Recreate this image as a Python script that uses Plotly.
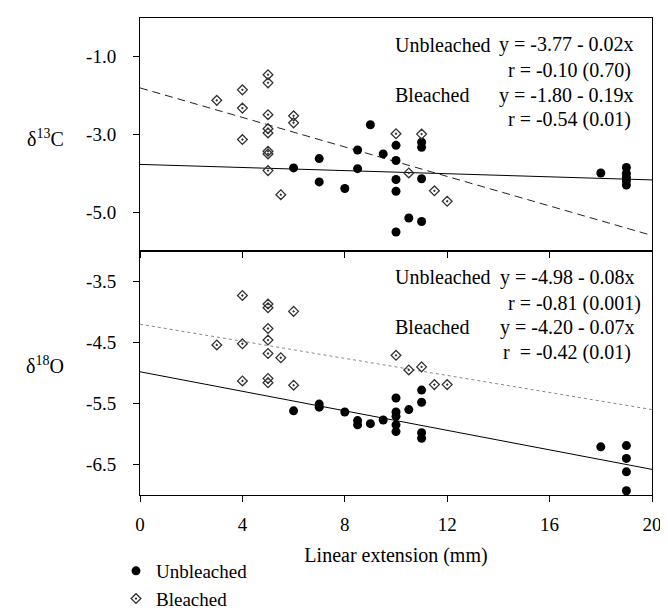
import plotly.graph_objects as go

# ---------------- data ----------------
# delta13C panel (top)
c13_unb_x = [6, 7, 7, 8, 8.5, 8.5, 9, 9.5, 10, 10, 10, 10, 10, 10.5, 11, 11, 11, 11, 18, 19, 19, 19, 19, 19]
c13_unb_y = [-3.86, -3.62, -4.22, -4.39, -3.40, -3.88, -2.75, -3.50, -3.28, -3.67, -4.16, -4.46, -5.51,
             -5.15, -3.20, -3.33, -4.14, -5.24, -3.99, -3.85, -4.00, -4.10, -4.20, -4.30]
c13_ble_x = [3, 4, 4, 4, 5, 5, 5, 5, 5, 5, 5, 5, 5.5, 6, 6, 10, 10.5, 11, 11.5, 12]
c13_ble_y = [-2.12, -1.85, -2.32, -3.13, -1.46, -1.67, -2.49, -2.85, -2.96, -3.43, -3.50, -3.93,
             -4.55, -2.52, -2.70, -2.98, -3.99, -2.99, -4.45, -4.72]

# delta18O panel (bottom)
o18_unb_x = [6, 7, 7, 8, 8.5, 8.5, 9, 9.5, 10, 10, 10, 10, 10, 10.5, 11, 11, 11, 11, 18, 19, 19, 19, 19]
o18_unb_y = [-5.62, -5.51, -5.56, -5.64, -5.78, -5.85, -5.83, -5.77, -5.41, -5.64, -5.71, -5.85, -5.96,
             -5.60, -5.28, -5.48, -5.98, -6.07, -6.21, -6.19, -6.40, -6.62, -6.93]
o18_ble_x = [3, 4, 4, 4, 5, 5, 5, 5, 5, 5, 5, 5.5, 6, 6, 10, 10.5, 11, 11.5, 12]
o18_ble_y = [-4.54, -3.73, -4.52, -5.13, -3.87, -3.93, -4.27, -4.46, -4.68, -5.09, -5.16, -4.75,
             -3.99, -5.20, -4.71, -4.95, -4.90, -5.19, -5.19]

# regression fits (intercept, slope) as printed on the chart
c13_unb_fit = (-3.77, -0.02)
c13_ble_fit = (-1.80, -0.19)
o18_unb_fit = (-4.98, -0.08)
o18_ble_fit = (-4.20, -0.07)
fit_x = [0, 20]

x_ticks = [0, 4, 8, 12, 16, 20]
x_ticktext = ["0", "4", "8", "12", "16", "20"]
c13_ticks = [-1.0, -3.0, -5.0]
c13_ticktext = ["-1.0", "-3.0", "-5.0"]
o18_ticks = [-3.5, -4.5, -5.5, -6.5]
o18_ticktext = ["-3.5", "-4.5", "-5.5", "-6.5"]

c13_text = ["y = -3.77 - 0.02x", "r = -0.10 (0.70)", "y = -1.80 - 0.19x", "r = -0.54 (0.01)"]
o18_text = ["y = -4.98 - 0.08x", "r = -0.81 (0.001)", "y = -4.20 - 0.07x", "r\u00a0 = -0.42 (0.01)"]

# ---------------- figure ----------------
FONT = "Liberation Serif"
W, H = 668, 616
ML, MR, MT, MB = 132, 24, 10, 129
PW = W - ML - MR
PH = H - MT - MB
split = 244 / PH


def px_x(px):
    return (px - ML) / PW


def px_y(py):
    return (H - MB - py) / PH


def line_y(fit):
    a, b = fit
    return [a + b * x for x in fit_x]


fig = go.Figure()

unb_marker = dict(symbol="circle", size=9, color="black")
ble_marker = dict(symbol="diamond-open-dot", size=7.5, color="#333333", line=dict(color="#333333", width=1.3))

# top panel
fig.add_trace(go.Scatter(x=fit_x, y=line_y(c13_unb_fit), mode="lines", xaxis="x2", yaxis="y2",
                         line=dict(color="black", width=1), showlegend=False, hoverinfo="skip"))
fig.add_trace(go.Scatter(x=fit_x, y=line_y(c13_ble_fit), mode="lines", xaxis="x2", yaxis="y2",
                         line=dict(color="#222222", width=1, dash="8px,5px"), showlegend=False, hoverinfo="skip"))
fig.add_trace(go.Scatter(x=c13_unb_x, y=c13_unb_y, mode="markers", xaxis="x2", yaxis="y2",
                         marker=unb_marker, name="Unbleached", legendgroup="u"))
fig.add_trace(go.Scatter(x=c13_ble_x, y=c13_ble_y, mode="markers", xaxis="x2", yaxis="y2",
                         marker=ble_marker, name="Bleached", legendgroup="b"))

# bottom panel
fig.add_trace(go.Scatter(x=fit_x, y=line_y(o18_unb_fit), mode="lines", xaxis="x", yaxis="y",
                         line=dict(color="black", width=1), showlegend=False, hoverinfo="skip"))
fig.add_trace(go.Scatter(x=fit_x, y=line_y(o18_ble_fit), mode="lines", xaxis="x", yaxis="y",
                         line=dict(color="#888888", width=1, dash="dot"), showlegend=False, hoverinfo="skip"))
fig.add_trace(go.Scatter(x=o18_unb_x, y=o18_unb_y, mode="markers", xaxis="x", yaxis="y",
                         marker=unb_marker, name="Unbleached", legendgroup="u", showlegend=False))
fig.add_trace(go.Scatter(x=o18_ble_x, y=o18_ble_y, mode="markers", xaxis="x", yaxis="y",
                         marker=ble_marker, name="Bleached", legendgroup="b", showlegend=False))

axis_common = dict(showline=True, linecolor="black", linewidth=1, mirror=True, showgrid=False,
                   zeroline=False, ticks="outside", ticklen=6, tickcolor="black", tickwidth=1,
                   automargin=False,
                   tickfont=dict(family=FONT, size=19, color="black"))

fig.update_layout(
    width=W, height=H,
    margin=dict(l=ML, r=MR, t=MT, b=MB, autoexpand=False),
    paper_bgcolor="white", plot_bgcolor="white",
    font=dict(family=FONT, size=20, color="black"),
    xaxis=dict(domain=[0, 1], anchor="y", range=[0, 20], tickvals=x_ticks, ticktext=x_ticktext,
               title=dict(text="Linear extension (mm)", standoff=14, font=dict(family=FONT, size=20)),
               ticklabelstandoff=6, **axis_common),
    yaxis=dict(domain=[0, split], anchor="x", range=[-7, -3], tickvals=o18_ticks, ticktext=o18_ticktext,
               ticklabelstandoff=13, **axis_common),
    xaxis2=dict(domain=[0, 1], anchor="y2", range=[0, 20], tickvals=x_ticks, showticklabels=False,
                **axis_common),
    yaxis2=dict(domain=[split, 1], anchor="x2", range=[-6, 0], tickvals=c13_ticks, ticktext=c13_ticktext,
                ticklabelstandoff=13, **axis_common),
    legend=dict(xref="container", yref="container", x=108 / W, y=1 - 544 / H,
                xanchor="left", yanchor="top", bgcolor="rgba(0,0,0,0)",
                font=dict(family=FONT, size=19), tracegroupgap=0, itemsizing="trace"),
    showlegend=True,
)

ann = []


def add_text(text, px, py, anchor):
    ann.append(dict(text=text, x=px_x(px), y=px_y(py), xref="paper", yref="paper",
                    xanchor=anchor, yanchor="middle", showarrow=False,
                    font=dict(family=FONT, size=20, color="black")))


# top panel texts
add_text("Unbleached", 385, 37, "left")
add_text(c13_text[0], 628, 37, "right")
add_text(c13_text[1], 625, 62, "right")
add_text("Bleached", 385, 87, "left")
add_text(c13_text[2], 628, 87, "right")
add_text(c13_text[3], 625, 111, "right")
# bottom panel texts
add_text("Unbleached", 385, 269, "left")
add_text(o18_text[0], 629, 269, "right")
add_text(o18_text[1], 635, 295, "right")
add_text("Bleached", 385, 319, "left")
add_text(o18_text[2], 629, 319, "right")
add_text(o18_text[3], 625, 344, "right")
# axis titles (horizontal)
add_text("δ<sup>13</sup>C", 37, 130, "center")
add_text("δ<sup>18</sup>O", 37, 357, "center")

fig.update_layout(annotations=ann)

fig.write_html("out.html")
